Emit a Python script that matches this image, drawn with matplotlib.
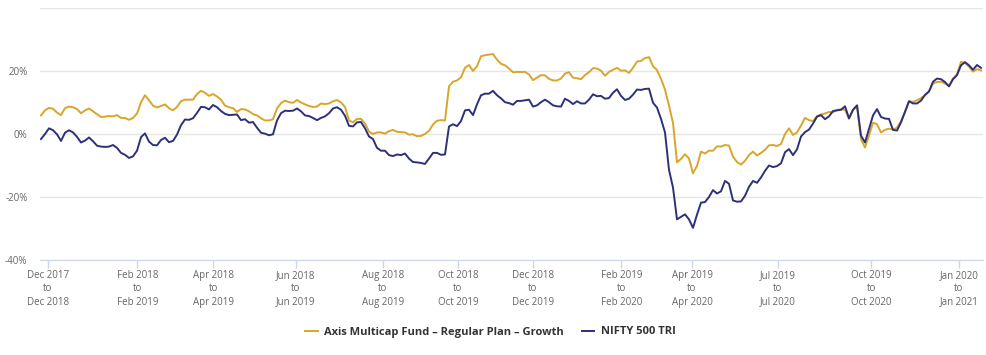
import matplotlib
matplotlib.use("Agg")
import matplotlib.pyplot as plt

#Rolling 1 year returns (%), one value per sample along the chart
axis_fund = [5.9, 7.5, 8.3, 8.0, 6.8, 6.0, 8.2, 8.7, 8.5, 7.9, 6.6, 7.5, 8.1, 7.2, 6.3, 5.4, 5.5, 5.7, 5.6, 6.0,
             5.1, 5.1, 4.5, 5.1, 6.5, 10.1, 12.3, 10.7, 9.0, 8.4, 8.9, 9.4, 8.2,
             7.5, 8.6, 10.4, 10.9, 10.9, 10.9, 12.7, 13.7, 13.1, 12.1, 12.7, 11.9, 10.9, 9.0, 8.5, 8.2, 7.0,
             7.9, 7.8, 7.2, 6.3, 5.9, 5.0, 4.3, 4.3, 4.7, 8.1, 9.8, 10.6, 10.1, 9.9, 10.8, 10.0, 9.4,
             8.9, 8.6, 8.7, 9.7, 9.5, 9.7, 10.4, 10.8, 10.0, 8.6, 4.3, 3.7, 4.8, 4.8, 3.3, 0.8, 0.0, 0.5,
             0.5, 0.1, 0.9, 1.3, 0.7, 0.6, 0.5, -0.2, -0.1, -0.7, -0.6, 0.0, 1.0, 3.0, 4.2, 4.4,
             4.3, 15.1, 16.6, 17.0, 18.0, 21.0, 21.9, 20.0, 21.5, 24.7, 25.0, 25.2, 25.4, 23.6, 22.3, 21.8,
             20.8, 19.6, 19.7, 19.7, 19.7, 18.9, 17.1, 17.9, 18.7, 18.6, 17.5, 17.0, 17.0, 17.6, 19.2, 19.6,
             17.9, 17.7,
             17.4, 18.7, 19.6, 20.9, 20.8, 20.1, 18.5, 19.7, 20.4, 21.0, 20.1, 20.2, 19.4, 21.0, 23.0, 23.2,
             24.1, 24.4, 21.5, 20.3, 17.5, 14.1, 9.0, 3.5, -9.0, -7.9, -6.4, -7.8, -12.5, -10.1, -5.6, -6.2,
             -5.3, -5.3,
             -3.9, -4.0, -3.5, -3.7, -7.2, -8.9, -9.7, -8.5, -6.7, -5.6, -6.8, -6.0, -5.0, -3.6, -3.5, -3.8,
             -3.2, 0.0, 1.8, -0.3, 0.5, 2.7, 5.1, 4.4, 4.1, 5.7, 6.2, 6.5, 7.0, 6.9, 7.7, 7.8, 7.7,
             4.8, 7.5, 8.9, -1.6, -4.3, -0.5, 3.6, 3.1, 0.5, 1.3, 1.7, 1.4, 2.0, 4.1, 7.0, 10.4, 10.2, 10.7,
             11.4, 12.3, 13.5, 16.0, 16.5, 16.6, 16.0, 15.4, 17.6, 18.9, 22.9, 22.6, 21.4, 19.8, 20.6, 20.2]
nifty_500 = [-1.6, 0.0, 1.8, 1.2, -0.1, -2.2, 0.4, 1.2, 0.5, -0.9, -2.7, -2.1, -1.1, -2.3, -3.7, -4.0, -4.1,
             -4.0, -3.5, -4.4, -6.0, -6.6, -7.6, -7.1, -5.3, -1.0, 0.2, -2.4, -3.5, -3.6, -1.9, -1.2, -2.6,
             -2.2, -0.2, 2.8, 4.6, 4.5, 5.0, 6.7, 8.6, 8.5, 7.8, 9.2, 8.5, 7.3, 6.4, 6.0, 6.1, 6.2, 4.4,
             4.7, 3.6, 3.8, 2.0, 0.4, 0.1, -0.4, -0.1, 4.3, 6.6, 7.4, 7.3, 7.4, 8.1, 7.2, 5.9,
             5.7, 5.1, 4.4, 5.1, 5.6, 6.6, 8.1, 8.5, 7.7, 5.8, 2.6, 2.4, 3.7, 3.8, 1.8, -0.8, -1.6, -4.4,
             -5.3, -5.3, -6.7, -7.0, -6.5, -6.7, -6.2, -7.8, -8.9, -9.0, -9.2, -9.5, -7.8, -6.0, -6.0, -6.6,
             -6.5, 2.4, 3.1, 2.5, 4.1, 7.5, 7.7, 6.0, 9.4, 12.3, 12.8, 12.8, 13.7, 12.3, 11.3, 10.1, 9.8,
             9.3, 10.5, 10.5, 10.7, 10.9, 8.7, 9.1, 10.1, 10.9, 10.1, 9.1, 8.8, 8.7, 11.2, 10.5, 9.5, 10.4,
             9.7, 9.7, 10.9, 12.6, 12.0, 12.1, 11.2, 11.4, 13.1, 14.2, 12.1, 10.8, 11.2, 12.5, 14.1, 14.0,
             14.3, 14.4, 9.9, 8.4, 4.8, 0.5, -11.4, -17.0, -27.1, -26.3, -25.5, -27.1, -29.8, -25.6, -21.8,
             -21.6, -20.0, -17.8,
             -18.9, -18.2, -14.9, -15.8, -21.1, -21.5, -21.4, -19.6, -16.8, -14.9, -15.5, -13.8, -11.7,
             -10.0, -10.5, -10.2, -9.3, -5.8, -4.8, -6.7, -4.9, -0.8, 0.6, 1.4, 3.3, 5.5, 6.0, 4.7, 5.6,
             7.3, 7.5, 7.7, 8.8,
             5.0, 7.7, 9.1, -0.5, -2.7, 1.6, 5.9, 7.9, 5.4, 4.9, 4.8, 1.3, 1.1, 3.7, 7.1, 10.4, 9.7, 9.7,
             10.6, 12.4, 13.5, 16.6, 17.6, 17.4, 16.5, 15.1, 17.4, 18.7, 21.8, 22.8, 21.8, 20.4, 21.9, 21.0]

#Period labels and the sample where each period starts
period_start = ["Dec 2017", "Feb 2018", "Apr 2018", "Jun 2018", "Aug 2018", "Oct 2018",
                "Dec 2018", "Feb 2019", "Apr 2019", "Jul 2019", "Oct 2019", "Jan 2020"]
period_end = ["Dec 2018", "Feb 2019", "Apr 2019", "Jun 2019", "Aug 2019", "Oct 2019",
              "Dec 2019", "Feb 2020", "Apr 2020", "Jul 2020", "Oct 2020", "Jan 2021"]
period_sample = [1.75, 24.1, 43.1, 63.75, 85.5, 104.25, 122.9, 145.1, 162.75, 184.25, 207.6, 229.5]

fund_name = "Axis Multicap Fund \u2013 Regular Plan \u2013 Growth"
index_name = "NIFTY 500 TRI"

plt.rcParams['font.family'] = ['Open Sans', 'DejaVu Sans']

fig = plt.figure(figsize=(9.87, 3.55), dpi=100)
ax = fig.add_axes([40/987, 95/355, 943/987, 252/355])

x = range(len(axis_fund))
ax.plot(x, axis_fund, color='#d9a52b', linewidth=1.4, label=fund_name)
ax.plot(x, nifty_500, color='#2c3179', linewidth=1.4, label=index_name)

ax.set_xlim(-0.25, 235.5)
ax.set_ylim(-40, 40)
ax.set_yticks([-40, -20, 0, 20, 40])
ax.set_yticklabels(["-40%", "-20%", "0%", "20%", ""])
ax.grid(axis='y', color='#e6e6e6', linewidth=1)
ax.set_axisbelow(True)

ax.set_xticks(period_sample)
ax.set_xticklabels([s + "\nto\n" + e for s, e in zip(period_start, period_end)], linespacing=1.3)

for side in ['top', 'right', 'left']:
    ax.spines[side].set_visible(False)
ax.spines['bottom'].set_color('#ccd6eb')
ax.tick_params(axis='y', length=0, pad=9, labelsize=7, labelcolor='#666666')
ax.tick_params(axis='x', length=6, width=1, color='#ccd6eb', pad=1, labelsize=7, labelcolor='#666666')

leg = fig.legend(loc='center', bbox_to_anchor=(0.497, 1 - 332/355), ncol=2, frameon=False,
                 handlelength=1.1, handletextpad=0.6, columnspacing=1.6,
                 prop={'weight': 'bold', 'size': 8})
for t in leg.get_texts():
    t.set_color('#333333')

fig.savefig("out.png", dpi=100)
